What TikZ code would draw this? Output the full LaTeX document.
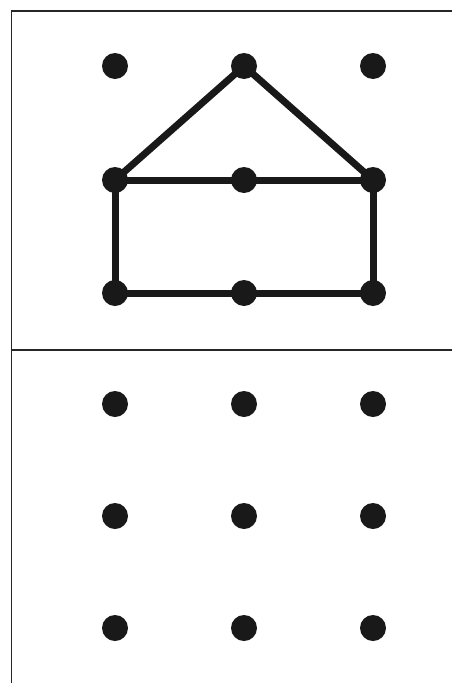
\documentclass[tikz,border=0pt]{standalone}
\begin{document}
\begin{tikzpicture}[x=1pt,y=-1pt,
  dot/.style={circle,fill=black!90,inner sep=0pt,minimum size=26pt},
  edge/.style={line width=7pt,draw=black!90,line cap=round,line join=round},
  frame/.style={line width=1.5pt,draw=black!85}]
\useasboundingbox (0,0) rectangle (452,683);
\draw[frame] (11.5,683) -- (11.5,11) -- (452,11);
\draw[frame] (11.5,350) -- (452,350);
% top grid
\foreach \c/\x in {a/115,b/244,c/373}{
  \foreach \r/\y in {1/66,2/180,3/293}{
    \node[dot] (\c\r) at (\x,\y) {};
  }
}
% bottom grid
\foreach \c/\x in {a/115,b/244,c/373}{
  \foreach \r/\y in {1/404,2/516,3/628}{
    \node[dot] (q\c\r) at (\x,\y) {};
  }
}
\draw[edge] (a2.center) -- (b1.center) -- (c2.center);
\draw[edge] (a2.center) -- (b2.center) -- (c2.center) -- (c3.center) -- (b3.center) -- (a3.center) -- cycle;
\end{tikzpicture}
\end{document}
